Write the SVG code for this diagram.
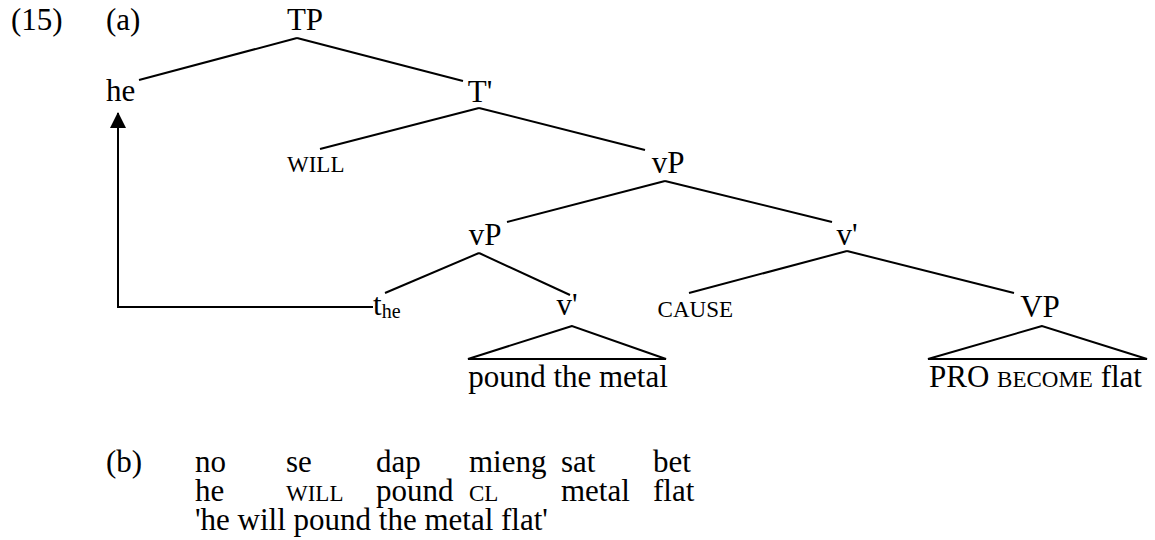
<svg xmlns="http://www.w3.org/2000/svg" width="1155" height="540" viewBox="0 0 1155 540">
  <style>
    text { font-family: "Liberation Serif", "Times New Roman", serif; font-size: 31px; fill: #000; }
    .sc { font-size: 23px; }
    .sub { font-size: 20px; }
    .mid { text-anchor: middle; }
    .end { text-anchor: end; }
    .edge { stroke: #000; stroke-width: 2; fill: none; }
  </style>
  <defs>
    <marker id="arrow" viewBox="0 0 16 16" refX="15" refY="8" markerWidth="16" markerHeight="16" markerUnits="userSpaceOnUse" orient="auto">
      <path d="M0,0 L16,8 L0,16 Z" fill="#000"/>
    </marker>
  </defs>

  <!-- example numbering -->
  <g id="labels">
    <text x="11" y="30">(15)</text>
    <text x="106" y="30">(a)</text>
    <text x="106" y="472">(b)</text>
  </g>

  <!-- tree branches -->
  <g id="connectors">
    <line class="edge" x1="297" y1="38" x2="139" y2="80"/>
    <line class="edge" x1="297" y1="38" x2="463" y2="81"/>
    <line class="edge" x1="479" y1="108" x2="320" y2="149"/>
    <line class="edge" x1="479" y1="108" x2="645" y2="150"/>
    <line class="edge" x1="665" y1="181" x2="507" y2="222"/>
    <line class="edge" x1="665" y1="181" x2="832" y2="222"/>
    <line class="edge" x1="479" y1="253" x2="385" y2="293"/>
    <line class="edge" x1="479" y1="253" x2="570" y2="295"/>
    <line class="edge" x1="847" y1="251" x2="689" y2="293"/>
    <line class="edge" x1="847" y1="251" x2="1014" y2="293"/>
    <polygon class="edge" points="572,326 468,359 666,359"/>
    <polygon class="edge" points="1042,326 928,359 1147,359"/>
    <!-- movement of the subject from its trace -->
    <polyline class="edge" points="373,307 118,307 118,113" marker-end="url(#arrow)"/>
  </g>

  <g id="node-TP"><text class="mid" x="305" y="30">TP</text></g>
  <g id="node-he"><text x="106" y="101">he</text></g>
  <g id="node-Tbar"><text class="mid" x="480" y="102">T'</text></g>
  <g id="node-WILL"><text class="sc" x="287" y="172">WILL</text></g>
  <g id="node-vP-upper"><text class="mid" x="668" y="173">vP</text></g>
  <g id="node-vP-lower"><text class="mid" x="485" y="245">vP</text></g>
  <g id="node-vbar-upper"><text class="mid" x="847" y="245">v'</text></g>
  <g id="node-trace"><text x="373" y="315">t<tspan class="sub" dy="3">he</tspan></text></g>
  <g id="node-vbar-lower"><text class="mid" x="567" y="315">v'</text></g>
  <g id="node-CAUSE"><text class="sc end" x="733" y="317">CAUSE</text></g>
  <g id="node-VP"><text class="mid" x="1040" y="317">VP</text></g>
  <g id="node-pound"><text class="mid" x="568" y="387">pound the metal</text></g>
  <g id="node-become"><text x="929" y="387">PRO <tspan class="sc">BECOME</tspan> flat</text></g>

  <!-- gloss -->
  <g id="gloss">
    <text x="195" y="472">no</text>
    <text x="286" y="472">se</text>
    <text x="376" y="472">dap</text>
    <text x="469" y="472">mieng</text>
    <text x="561" y="472">sat</text>
    <text x="653" y="472">bet</text>
    <text x="195" y="501">he</text>
    <text class="sc" x="286" y="501">WILL</text>
    <text x="376" y="501">pound</text>
    <text class="sc" x="469" y="501">CL</text>
    <text x="561" y="501">metal</text>
    <text x="653" y="501">flat</text>
    <text x="195" y="530">'he will pound the metal flat'</text>
  </g>
</svg>
